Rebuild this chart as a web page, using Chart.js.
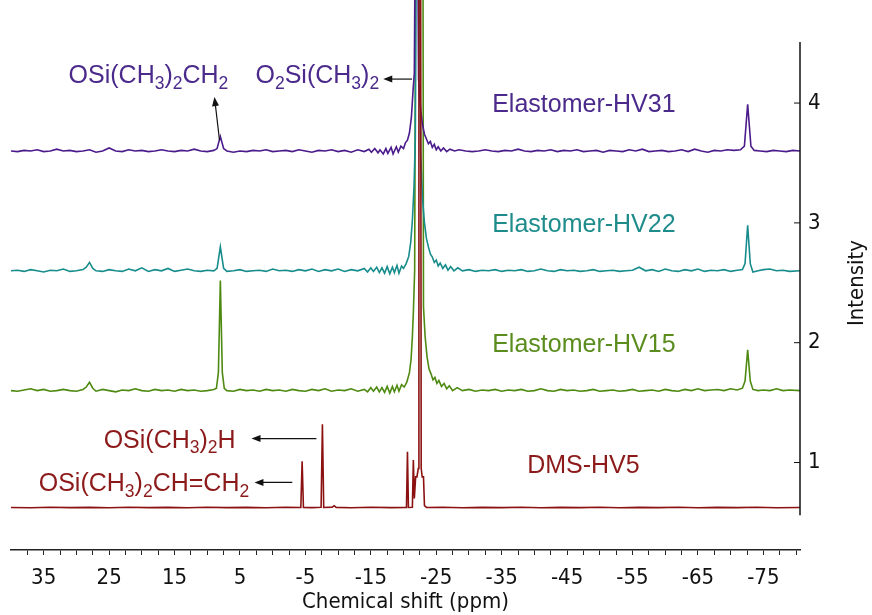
<!DOCTYPE html>
<html>
<head>
<meta charset="utf-8">
<script src="https://cdn.jsdelivr.net/npm/chart.js@4.4.1/dist/chart.umd.min.js"></script>
<style>
  body { margin: 0; background: #fff; }
  canvas { display: block; }
</style>
</head>
<body>
<canvas id="nmr" width="872" height="615"></canvas>
<script>
// 29Si NMR spectra, stacked (ppm, intensity incl. offset)
const seriesNames = ['Elastomer-HV31', 'Elastomer-HV22', 'Elastomer-HV15', 'DMS-HV5'];

const hv31 = [
  [40,3.60],[39,3.595],[38,3.605],[37,3.60],[36,3.61],[35,3.595],[34,3.60],[33,3.615],[32,3.60],[31,3.605],
  [30,3.595],[29,3.60],[28,3.61],[27,3.59],[26,3.60],[25,3.625],[24,3.60],[23,3.595],[22,3.61],[21,3.60],
  [20,3.605],[19,3.595],[18,3.60],[17,3.61],[16,3.60],[15,3.595],[14,3.605],[13,3.60],[12,3.615],[11,3.60],
  [10,3.595],[9,3.605],[8.5,3.62],[8.0,3.72],[7.5,3.62],[7,3.60],[6,3.59],[5,3.60],[4,3.595],[3,3.605],
  [2,3.60],[1,3.61],[0,3.595],[-1,3.60],[-2,3.605],[-3,3.595],[-4,3.61],[-5,3.60],[-6,3.59],[-7,3.605],
  [-8,3.60],[-9,3.61],[-10,3.595],[-11,3.605],[-12,3.59],[-13,3.61],[-14,3.595],[-14.7,3.615],[-15.1,3.59],[-15.6,3.62],
  [-16.1,3.585],[-16.4,3.61],[-16.9,3.575],[-17.3,3.62],[-17.6,3.58],[-18.1,3.63],[-18.4,3.575],[-18.9,3.635],[-19.2,3.59],[-19.6,3.64],
  [-20,3.62],[-20.3,3.67],[-20.6,3.69],[-20.9,3.75],[-21.2,3.88],[-21.45,4.10],[-21.65,4.25],[-21.85,6.0],[-22.1,6.0],[-22.3,4.20],
  [-22.6,3.95],[-22.9,3.82],[-23.2,3.74],[-23.5,3.70],[-23.8,3.66],[-24.1,3.68],[-24.4,3.63],[-24.7,3.655],[-25.0,3.61],[-25.3,3.635],
  [-25.7,3.60],[-26.1,3.625],[-26.6,3.595],[-27.1,3.615],[-27.8,3.60],[-28.5,3.61],[-29.5,3.60],[-30.5,3.595],[-31.5,3.60],[-32.5,3.61],
  [-33.5,3.60],[-34.5,3.595],[-35.5,3.605],[-36.5,3.60],[-37.5,3.615],[-38.5,3.60],[-39.5,3.595],[-40.5,3.605],[-41.5,3.60],[-42.5,3.61],
  [-43.5,3.595],[-44.5,3.605],[-45.5,3.60],[-46.5,3.61],[-47.5,3.595],[-48.5,3.60],[-49.5,3.605],[-50.5,3.59],[-51.5,3.605],[-52.5,3.60],
  [-53.5,3.595],[-54.5,3.61],[-55.5,3.60],[-56.5,3.615],[-57.5,3.595],[-58.5,3.60],[-59.5,3.605],[-60.5,3.595],[-61.5,3.60],[-62.5,3.61],
  [-63.5,3.595],[-64.5,3.615],[-65.5,3.60],[-66.5,3.59],[-67.5,3.605],[-68.5,3.60],[-69.5,3.61],[-70.5,3.605],[-71.5,3.61],[-72.1,3.64],
  [-72.6,3.99],[-73.1,3.64],[-73.6,3.605],[-74.5,3.60],[-75.5,3.595],[-76.5,3.605],[-77.5,3.60],[-78.5,3.595],[-79.5,3.605],[-80.6,3.60]
];

const hv22 = [
  [40,2.60],[39,2.605],[38,2.595],[37,2.61],[36,2.60],[35,2.59],[34,2.605],[33,2.60],[32,2.615],[31,2.595],
  [30,2.60],[29,2.61],[28.5,2.63],[28,2.67],[27.5,2.62],[27,2.60],[26,2.595],[25,2.61],[24,2.60],[23,2.595],
  [22,2.615],[21,2.60],[20,2.625],[19,2.595],[18,2.61],[17,2.60],[16,2.62],[15,2.595],[14,2.605],[13,2.615],
  [12,2.60],[11,2.595],[10,2.605],[9,2.60],[8.5,2.62],[8.0,2.80],[7.5,2.62],[7,2.595],[6,2.60],[5,2.61],
  [4,2.595],[3,2.60],[2,2.605],[1,2.595],[0,2.615],[-1,2.60],[-2,2.605],[-3,2.595],[-4,2.61],[-5,2.60],
  [-6,2.615],[-7,2.595],[-8,2.61],[-9,2.60],[-10,2.615],[-11,2.595],[-12,2.61],[-13,2.60],[-14,2.62],[-14.5,2.59],
  [-15.0,2.625],[-15.4,2.595],[-15.9,2.63],[-16.3,2.585],[-16.7,2.625],[-17.1,2.58],[-17.5,2.635],[-17.9,2.575],[-18.3,2.63],[-18.6,2.585],
  [-19.0,2.645],[-19.3,2.58],[-19.7,2.64],[-20.0,2.62],[-20.4,2.66],[-20.8,2.72],[-21.1,2.84],[-21.35,3.02],[-21.6,3.30],[-21.8,3.70],
  [-22.0,6.0],[-22.35,6.0],[-22.6,3.60],[-22.9,3.20],[-23.2,3.00],[-23.5,2.87],[-23.8,2.80],[-24.1,2.74],[-24.4,2.715],[-24.7,2.67],
  [-25.0,2.69],[-25.3,2.64],[-25.6,2.665],[-26.0,2.62],[-26.4,2.65],[-26.8,2.605],[-27.2,2.635],[-27.7,2.60],[-28.3,2.625],[-29,2.60],
  [-30,2.61],[-31,2.595],[-32,2.605],[-33,2.60],[-34,2.61],[-35,2.595],[-36,2.605],[-37,2.60],[-38,2.61],[-39,2.595],
  [-40,2.60],[-41,2.615],[-42,2.60],[-43,2.595],[-44,2.61],[-45,2.60],[-46,2.605],[-47,2.595],[-48,2.60],[-49,2.61],
  [-50,2.595],[-51,2.60],[-52,2.605],[-53,2.595],[-54,2.60],[-55,2.605],[-56,2.63],[-57,2.60],[-58,2.61],[-59,2.595],
  [-60,2.615],[-61,2.60],[-62,2.595],[-63,2.61],[-64,2.60],[-65,2.615],[-66,2.595],[-67,2.605],[-68,2.60],[-69,2.61],
  [-70,2.595],[-71,2.605],[-71.8,2.61],[-72.2,2.66],[-72.6,2.98],[-73.0,2.66],[-73.4,2.59],[-74.2,2.60],[-75,2.61],[-76,2.615],
  [-77,2.60],[-78,2.605],[-79,2.595],[-80.6,2.60]
];

const hv15 = [
  [40,1.60],[39,1.595],[38,1.605],[37,1.615],[36,1.60],[35,1.61],[34,1.595],[33,1.60],[32,1.61],[31,1.60],
  [30,1.595],[29,1.61],[28.5,1.63],[28,1.67],[27.5,1.62],[27,1.595],[26,1.61],[25,1.60],[24,1.59],[23,1.605],
  [22,1.60],[21,1.615],[20,1.60],[19,1.595],[18,1.61],[17,1.60],[16,1.605],[15,1.595],[14,1.61],[13,1.60],
  [12,1.605],[11,1.595],[10,1.60],[9,1.61],[8.6,1.62],[8.3,1.75],[8.0,2.52],[7.7,1.75],[7.4,1.62],[7,1.60],
  [6,1.595],[5,1.61],[4,1.60],[3,1.605],[2,1.595],[1,1.61],[0,1.60],[-1,1.605],[-2,1.595],[-3,1.61],
  [-4,1.60],[-5,1.595],[-6,1.61],[-7,1.60],[-8,1.615],[-9,1.595],[-10,1.605],[-11,1.60],[-12,1.615],[-13,1.595],
  [-14,1.61],[-14.5,1.59],[-15.0,1.625],[-15.4,1.595],[-15.9,1.63],[-16.3,1.59],[-16.7,1.625],[-17.1,1.585],[-17.5,1.635],[-17.9,1.58],
  [-18.3,1.635],[-18.6,1.59],[-19.0,1.645],[-19.3,1.595],[-19.7,1.65],[-20.1,1.63],[-20.5,1.67],[-20.9,1.75],[-21.15,1.86],[-21.35,2.05],
  [-21.5,2.25],[-21.7,2.60],[-21.9,6.0],[-22.95,6.0],[-23.05,2.30],[-23.3,2.05],[-23.6,1.88],[-23.9,1.78],[-24.2,1.74],[-24.5,1.69],
  [-24.8,1.71],[-25.1,1.66],[-25.4,1.685],[-25.8,1.635],[-26.2,1.66],[-26.6,1.615],[-27.0,1.64],[-27.5,1.60],[-28.2,1.625],[-29,1.60],
  [-30,1.61],[-31,1.595],[-32,1.605],[-33,1.60],[-34,1.61],[-35,1.595],[-36,1.605],[-37,1.60],[-38,1.61],[-39,1.595],
  [-40,1.60],[-41,1.615],[-42,1.60],[-43,1.595],[-44,1.61],[-45,1.60],[-46,1.605],[-47,1.595],[-48,1.60],[-49,1.61],
  [-50,1.595],[-51,1.60],[-52,1.605],[-53,1.595],[-54,1.60],[-55,1.61],[-56,1.595],[-57,1.60],[-58,1.605],[-59,1.595],
  [-60,1.61],[-61,1.60],[-62,1.595],[-63,1.61],[-64,1.60],[-65,1.615],[-66,1.60],[-67,1.605],[-68,1.61],[-69,1.60],
  [-70,1.615],[-71,1.605],[-71.8,1.62],[-72.2,1.68],[-72.6,1.94],[-73.0,1.68],[-73.4,1.61],[-74.2,1.60],[-75,1.605],[-76,1.60],
  [-77,1.615],[-78,1.60],[-79,1.605],[-80.6,1.60]
];

const dms = [
  [40,0.625],[37,0.622],[34,0.627],[31,0.624],[28,0.626],[25,0.623],[22,0.627],[19,0.624],[16,0.626],[13,0.623],
  [10,0.627],[7,0.624],[4,0.626],[1,0.623],[-2,0.627],[-4.3,0.625],[-4.5,1.01],[-4.7,0.625],[-6,0.624],[-7.4,0.626],
  [-7.6,1.32],[-7.8,0.625],[-9.1,0.628],[-9.4,0.64],[-9.7,0.626],[-12,0.623],[-15,0.627],[-18,0.624],[-20.45,0.626],[-20.6,1.09],
  [-20.75,0.625],[-21.35,0.626],[-21.5,1.02],[-21.65,0.70],[-21.85,0.88],[-22.05,0.88],[-22.25,0.95],[-22.35,6.0],[-22.6,6.0],[-22.7,0.95],
  [-22.85,0.88],[-23.05,0.88],[-23.2,0.64],[-23.5,0.625],[-26,0.627],[-29,0.623],[-32,0.626],[-35,0.624],[-38,0.627],[-41,0.623],
  [-44,0.626],[-47,0.624],[-50,0.627],[-53,0.623],[-56,0.626],[-59,0.624],[-62,0.627],[-65,0.623],[-68,0.626],[-71,0.624],
  [-74,0.627],[-77,0.623],[-80.6,0.625]
];

const xTickLabels = [35, 25, 15, 5, -5, -15, -25, -35, -45, -55, -65, -75];
const yTickLabels = [1, 2, 3, 4];

const colors = ['#4b1b8c', '#178c8c', '#4e8a12', '#8c1212'];
const textColors = ['#4b2a8c', '#1f8c8c', '#5a8c1e', '#8c1a1a'];
const labelFont = '"Liberation Sans", Arial, sans-serif';
const axisFont = '"DejaVu Sans Condensed", "DejaVu Sans", sans-serif';

// draw text with "_x" meaning subscript x
function chemText(ctx, str, x, yc, size, color) {
  const base = yc + 0.36 * size;
  ctx.save();
  ctx.fillStyle = color;
  ctx.textBaseline = 'alphabetic';
  ctx.textAlign = 'left';
  let cx = x;
  for (let i = 0; i < str.length; i++) {
    let ch = str[i];
    if (ch === '_') {
      ch = str[++i];
      ctx.font = (size * 0.7) + 'px ' + labelFont;
      ctx.fillText(ch, cx, base + 0.22 * size);
    } else {
      ctx.font = size + 'px ' + labelFont;
      ctx.fillText(ch, cx, base);
    }
    cx += ctx.measureText(ch).width;
  }
  ctx.restore();
}

function arrow(ctx, x1, y1, x2, y2) {
  const a = Math.atan2(y2 - y1, x2 - x1);
  ctx.save();
  ctx.strokeStyle = '#111';
  ctx.fillStyle = '#111';
  ctx.lineWidth = 1.2;
  ctx.beginPath();
  ctx.moveTo(x1, y1);
  ctx.lineTo(x2 - 6 * Math.cos(a), y2 - 6 * Math.sin(a));
  ctx.stroke();
  ctx.translate(x2, y2);
  ctx.rotate(a);
  ctx.beginPath();
  ctx.moveTo(0, 0);
  ctx.lineTo(-9, -3.5);
  ctx.lineTo(-9, 3.5);
  ctx.closePath();
  ctx.fill();
  ctx.restore();
}

const overlay = {
  id: 'overlay',
  afterDraw(chart) {
    const ctx = chart.ctx;
    const xs = chart.scales.x, ys = chart.scales.y;
    const px = v => xs.getPixelForValue(v);
    const py = v => ys.getPixelForValue(v);
    const area = chart.chartArea;

    // detached right axis
    ctx.save();
    ctx.strokeStyle = '#111';
    ctx.lineWidth = 1.5;
    ctx.beginPath();
    ctx.moveTo(area.right, py(0.56));
    ctx.lineTo(area.right, py(4.51));
    ctx.stroke();
    ctx.lineWidth = 1;
    yTickLabels.forEach(v => {
      ctx.beginPath();
      ctx.moveTo(area.right - 6, py(v));
      ctx.lineTo(area.right, py(v));
      ctx.stroke();
    });
    ctx.translate(857, 283);
    ctx.rotate(-Math.PI / 2);
    ctx.fillStyle = '#111';
    ctx.font = '22px ' + axisFont;
    ctx.textAlign = 'center';
    ctx.textBaseline = 'middle';
    ctx.fillText('Intensity', 0, 0);
    ctx.restore();

    const fs = 25;
    // spectrum labels
    chemText(ctx, seriesNames[0], px(-33.55), py(4.0), fs, textColors[0]);
    chemText(ctx, seriesNames[1], px(-33.55), py(3.0), fs, textColors[1]);
    chemText(ctx, seriesNames[2], px(-33.55), py(2.0), fs, textColors[2]);
    chemText(ctx, seriesNames[3], px(-38.9), py(0.984), fs, textColors[3]);

    // assignments
    chemText(ctx, 'OSi(CH_3)_2CH_2', px(31.2), py(4.24), fs, textColors[0]);
    chemText(ctx, 'O_2Si(CH_3)_2', px(2.63), py(4.24), fs, textColors[0]);
    chemText(ctx, 'OSi(CH_3)_2H', px(25.84), py(1.20), fs, textColors[3]);
    chemText(ctx, 'OSi(CH_3)_2CH=CH_2', px(35.76), py(0.834), fs, textColors[3]);

    arrow(ctx, px(-21.3), py(4.20), px(-16.9), py(4.20));
    arrow(ctx, px(8.13), py(3.69), px(8.9), py(4.05));
    arrow(ctx, px(-6.68), py(1.20), px(3.24), py(1.20));
    arrow(ctx, px(-3.0), py(0.834), px(2.79), py(0.834));
  }
};

const datasets = [hv31, hv22, hv15, dms].map((s, i) => ({
  label: seriesNames[i],
  data: s.map(p => ({ x: p[0], y: p[1] })),
  borderColor: colors[i],
  borderWidth: 1.6,
  pointRadius: 0,
  tension: 0,
  fill: false,
  order: i === 3 ? 0 : i + 1
}));

new Chart(document.getElementById('nmr'), {
  type: 'line',
  data: { datasets },
  options: {
    responsive: false,
    devicePixelRatio: 1,
    animation: false,
    layout: { padding: { left: 11, top: 0, right: 0, bottom: 0 } },
    plugins: { legend: { display: false }, tooltip: { enabled: false } },
    scales: {
      x: {
        type: 'linear',
        reverse: true,
        min: -80.6,
        max: 40,
        afterBuildTicks: sc => {
          const t = [];
          for (let v = 37.5; v >= -80; v -= 2.5) t.push({ value: v });
          sc.ticks = t.reverse();
        },
        afterFit: sc => { sc.height = 65; sc.paddingLeft = 0; sc.paddingRight = 0; },
        ticks: {
          autoSkip: false,
          maxRotation: 0,
          padding: 10,
          color: '#111',
          font: { family: axisFont, size: 22 },
          callback: v => xTickLabels.includes(v) ? String(v) : ''
        },
        grid: { display: true, drawOnChartArea: false, drawTicks: true, tickLength: 5, color: '#222', lineWidth: 1 },
        border: { display: true, color: '#222', width: 1.5 },
        title: {
          display: true,
          text: 'Chemical shift (ppm)',
          color: '#111',
          font: { family: axisFont, size: 22 },
          padding: { top: 0, bottom: 0 }
        }
      },
      y: {
        type: 'linear',
        position: 'right',
        min: 0.27,
        max: 4.86,
        afterBuildTicks: sc => { sc.ticks = yTickLabels.map(v => ({ value: v })); },
        afterFit: sc => { sc.width = 72; sc.paddingTop = 0; sc.paddingBottom = 0; },
        ticks: {
          padding: 0,
          color: '#111',
          font: { family: axisFont, size: 22 }
        },
        grid: { display: false },
        border: { display: false }
      }
    }
  },
  plugins: [overlay]
});
</script>
</body>
</html>
